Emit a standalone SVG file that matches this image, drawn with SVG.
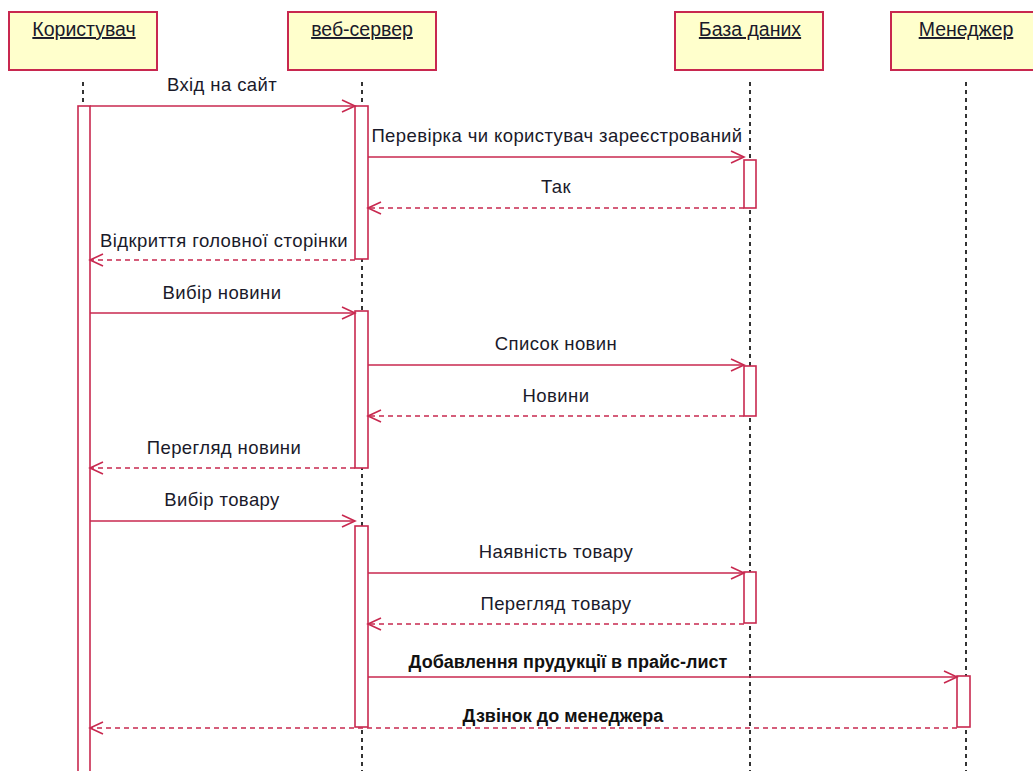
<svg xmlns="http://www.w3.org/2000/svg" width="1033" height="771" viewBox="0 0 1033 771">
<defs>
<style>
.obj{fill:#ffffcc;stroke:#c8284f;stroke-width:2}
.hdr{font-family:"Liberation Sans",Arial,sans-serif;font-size:19.5px;fill:#1a1a2a;text-anchor:middle;text-decoration:underline}
.life{stroke:#333;stroke-width:2;stroke-dasharray:4 4;fill:none}
.act{fill:#fff;stroke:#c8284f;stroke-width:1.6}
.msg{stroke:#c8284f;stroke-width:1.6;fill:none}
.ret{stroke:#c8284f;stroke-width:1.6;fill:none;stroke-dasharray:5 4}
.lbl{font-family:"Liberation Sans",Arial,sans-serif;font-size:18.5px;letter-spacing:0.4px;fill:#1a1a2a;text-anchor:middle}
.blbl{font-family:"Liberation Sans",Arial,sans-serif;font-size:18px;font-weight:bold;fill:#111;text-anchor:middle}
</style>
<marker id="arr" markerWidth="16" markerHeight="14" refX="14" refY="7" orient="auto" markerUnits="userSpaceOnUse">
<path d="M1,1 L14,7 L1,13" fill="none" stroke="#c8284f" stroke-width="1.6"/>
</marker>
</defs>
<rect width="1033" height="771" fill="#fff"/>

<g id="lifelines">
<line class="life" x1="83" y1="82" x2="83" y2="771"/>
<line class="life" x1="362" y1="82" x2="362" y2="771"/>
<line class="life" x1="750" y1="82" x2="750" y2="771"/>
<line class="life" x1="966" y1="82" x2="966" y2="771"/>
</g>

<g id="node-korystuvach">
<rect class="obj" x="9" y="12" width="148" height="58"/>
<text class="hdr" x="84" y="36">Користувач</text>
<rect class="act" x="78" y="106" width="12" height="670"/>
</g>
<g id="node-vebserver">
<rect class="obj" x="288" y="12" width="148" height="58"/>
<text class="hdr" x="362" y="36">веб-сервер</text>
<rect class="act" x="355" y="106" width="13" height="153"/>
<rect class="act" x="355" y="311" width="13" height="157"/>
<rect class="act" x="355" y="526" width="13" height="201"/>
</g>
<g id="node-baza">
<rect class="obj" x="675" y="12" width="148" height="58"/>
<text class="hdr" x="750" y="36">База даних</text>
<rect class="act" x="744" y="160" width="12" height="48"/>
<rect class="act" x="744" y="366" width="12" height="50"/>
<rect class="act" x="744" y="572" width="12" height="51"/>
</g>
<g id="node-menedzher">
<rect class="obj" x="891" y="12" width="150" height="58"/>
<text class="hdr" x="966" y="36">Менеджер</text>
<rect class="act" x="957" y="676" width="13" height="51"/>
</g>

<g id="connectors">
<line class="msg" x1="90" y1="106" x2="355" y2="106" marker-end="url(#arr)"/>
<line class="msg" x1="368" y1="157" x2="744" y2="157" marker-end="url(#arr)"/>
<line class="ret" x1="744" y1="208" x2="368" y2="208" marker-end="url(#arr)"/>
<line class="ret" x1="355" y1="260" x2="90" y2="260" marker-end="url(#arr)"/>
<line class="msg" x1="90" y1="313" x2="355" y2="313" marker-end="url(#arr)"/>
<line class="msg" x1="368" y1="365" x2="744" y2="365" marker-end="url(#arr)"/>
<line class="ret" x1="744" y1="416" x2="368" y2="416" marker-end="url(#arr)"/>
<line class="ret" x1="355" y1="468" x2="90" y2="468" marker-end="url(#arr)"/>
<line class="msg" x1="90" y1="521" x2="355" y2="521" marker-end="url(#arr)"/>
<line class="msg" x1="368" y1="573" x2="744" y2="573" marker-end="url(#arr)"/>
<line class="ret" x1="744" y1="624" x2="368" y2="624" marker-end="url(#arr)"/>
<line class="msg" x1="368" y1="677" x2="957" y2="677" marker-end="url(#arr)"/>
<line class="ret" x1="957" y1="728" x2="90" y2="728" marker-end="url(#arr)"/>
</g>

<g id="labels">
<text class="lbl" x="222" y="91">Вхід на сайт</text>
<text class="lbl" x="557" y="142">Перевірка чи користувач зареєстрований</text>
<text class="lbl" x="556" y="193">Так</text>
<text class="lbl" x="224" y="247">Відкриття головної сторінки</text>
<text class="lbl" x="222" y="299">Вибір новини</text>
<text class="lbl" x="556" y="350">Список новин</text>
<text class="lbl" x="556" y="402">Новини</text>
<text class="lbl" x="224" y="454">Перегляд новини</text>
<text class="lbl" x="222" y="506">Вибір товару</text>
<text class="lbl" x="556" y="558">Наявність товару</text>
<text class="lbl" x="556" y="610">Перегляд товару</text>
<text class="blbl" x="568" y="668">Добавлення прудукції в прайс-лист</text>
<text class="blbl" x="563" y="722">Дзвінок до менеджера</text>
</g>
</svg>
